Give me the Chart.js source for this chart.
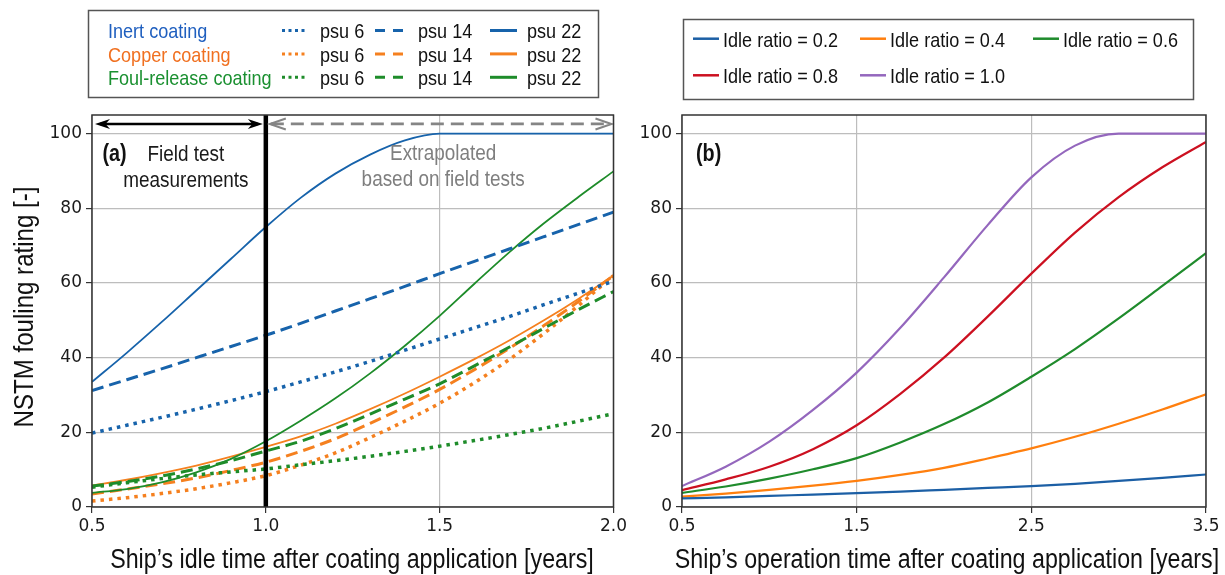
<!DOCTYPE html>
<html><head><meta charset="utf-8">
<script src="https://cdn.jsdelivr.net/npm/chart.js@4.4.1/dist/chart.umd.min.js"></script>
<style>
html,body{margin:0;padding:0;background:#fff;}
#wrap{position:relative;width:1225px;height:575px;overflow:hidden;background:#fff;}
canvas{position:absolute;top:0;}
#cA{left:0;} #cB{left:630px;}
</style></head><body>
<div id="wrap"><canvas id="cA" width="630" height="575"></canvas><canvas id="cB" width="595" height="575"></canvas></div>
<script>
// ---------------- DATA ----------------
// Panel (a): idle time [years]
const idleYears = [0.5,0.6,0.7,0.8,0.9,1.0,1.1,1.2,1.3,1.4,1.5,1.6,1.7,1.8,1.9,2.0];
const inertPsu6   = [19.8,21.9,24.0,26.2,28.5,30.9,33.5,36.2,39.0,42.0,45.0,48.0,51.0,54.2,57.3,60.5];
const inertPsu14  = [31.2,34.1,37.0,40.0,43.0,46.0,49.2,52.5,55.8,59.1,62.5,65.8,69.1,72.4,75.7,79.0];
const inertPsu22  = [33.5,41.3,49.5,58.0,66.5,75.0,82.8,89.3,94.4,98.2,100,100,100,100,100,100];
const copperPsu6  = [1.6,2.5,3.6,4.9,6.5,8.4,11.2,14.5,18.6,23.0,27.8,33.3,39.5,46.5,54.0,62.0];
const copperPsu14 = [3.5,4.8,6.2,7.8,9.8,12.0,14.9,18.3,22.4,26.8,31.5,36.8,42.5,48.6,55.1,62.0];
const copperPsu22 = [5.8,7.3,9.1,11.1,13.5,16.1,18.9,22.3,26.2,30.4,34.9,39.6,44.6,50.0,55.8,62.0];
const foulPsu6    = [5.3,6.5,7.6,8.6,9.4,10.2,11.3,12.4,13.6,14.9,16.3,17.8,19.4,21.1,23.0,25.0];
const foulPsu14   = [5.6,6.8,8.3,10.2,12.4,15.0,17.6,21.0,24.9,28.9,33.0,37.8,42.8,47.9,52.9,57.7];
const foulPsu22   = [3.8,4.8,6.6,9.3,12.9,17.6,23.1,29.1,35.8,43.2,51.2,59.8,68.2,76.0,83.1,89.9];

// Panel (b): operation time [years]
const opYears = [0.5,0.75,1.0,1.25,1.5,1.75,2.0,2.25,2.5,2.75,3.0,3.25,3.5];
const idle02 = [2.3,2.6,3.0,3.3,3.7,4.1,4.6,5.1,5.6,6.2,7.0,7.8,8.7];
const idle04 = [2.8,3.6,4.6,5.7,7.0,8.6,10.5,13.0,15.7,18.8,22.3,26.1,30.2];
const idle06 = [3.8,5.5,7.6,10.1,13.1,17.3,22.2,28.0,34.9,42.3,50.5,59.2,68.0];
const idle08 = [4.5,7.4,10.8,15.5,21.9,30.3,40.0,51.0,62.5,73.5,83.0,91.0,97.8];
const idle10 = [5.6,10.8,17.5,26.0,36.0,48.0,61.5,75.5,88.3,96.8,100,100,100];

// Tick labels
const xTicksA = [0.5,1.0,1.5,2.0];
const xTicksB = [0.5,1.5,2.5,3.5];
const yTicks  = [0,20,40,60,80,100];

// Text
const coatingLabels = ['Inert coating','Copper coating','Foul-release coating'];
const psuLabels = ['psu 6','psu 14','psu 22'];
const idleLabels = ['Idle ratio = 0.2','Idle ratio = 0.4','Idle ratio = 0.6','Idle ratio = 0.8','Idle ratio = 1.0'];
const xTitleA = "Ship\u2019s idle time after coating application [years]";
const xTitleB = "Ship\u2019s operation time after coating application [years]";
const yTitle = 'NSTM fouling rating [-]';

// ---------------- STYLE ----------------
const cBlue = '#1763ab', cOrange = '#f5801f', cGreen = '#1e8c2a';
const coatingTextColors = ['#1f5fbf','#f07020','#1a9030'];
const coatingColors = [cBlue, cOrange, cGreen];
const idleColors = ['#1c5fa5','#ff7f0e','#1f8b2c','#cc1020','#9467bd'];
const K = 0.86;
const LBL = "'Liberation Sans', Arial, Helvetica, sans-serif";
const TICKFONT = {family:"'DejaVu Sans', sans-serif", size:17};

function condText(ctx, text, x, y, align, font, color, rot){
  ctx.save();
  ctx.font = font; ctx.fillStyle = color; ctx.textBaseline = 'alphabetic'; ctx.textAlign = 'left';
  const w = ctx.measureText(text).width * K;
  ctx.translate(x, y);
  if (rot) ctx.rotate(rot);
  const x0 = align === 'center' ? -w/2 : align === 'right' ? -w : 0;
  ctx.translate(x0, 0);
  ctx.scale(K, 1);
  ctx.fillText(text, 0, 0);
  ctx.restore();
}

const styleDefs = {
  dot:  {dash:[3.5,5], w:3.5},
  dash: {dash:[12,6], w:3},
  solid:{dash:[], w:1.8}
};
function mk(label, xs, ys, color, style){
  const s = styleDefs[style];
  return {label, data: xs.map((x,i)=>({x, y: ys[i]})), borderColor: color, borderWidth: s.w,
    borderDash: s.dash, borderCapStyle:'butt', pointRadius:0, fill:false, cubicInterpolationMode:'monotone'};
}

function scales(xmin, xmax, xt, yWidth){
  return {
    x: {type:'linear', min:xmin, max:xmax,
      afterBuildTicks: s => { s.ticks = xt.map(v=>({value:v})); },
      afterFit: s => { s.height = 68; },
      grid:{color:'#bdbdbd', lineWidth:1.2, tickColor:'#333', tickLength:6},
      border:{display:false},
      ticks:{font:TICKFONT, color:'#1a1a1a', padding:3, maxRotation:0, callback: v => Number(v).toFixed(1)}
    },
    y: {type:'linear', min:0, max:105,
      afterBuildTicks: s => { s.ticks = yTicks.map(v=>({value:v})); },
      afterFit: s => { s.width = yWidth; },
      grid:{color:'#bdbdbd', lineWidth:1.2, tickColor:'#333', tickLength:6},
      border:{display:false},
      ticks:{font:TICKFONT, color:'#1a1a1a', padding:4, callback: v => String(v)}
    }
  };
}

function drawFrame(chart){
  const {ctx, chartArea:a} = chart;
  ctx.save(); ctx.strokeStyle = '#333'; ctx.lineWidth = 1.5;
  ctx.strokeRect(a.left, a.top, a.right - a.left, a.bottom - a.top);
  ctx.restore();
}

function sample(ctx, x1, x2, y, color, style, w){
  ctx.save(); ctx.strokeStyle = color; ctx.lineWidth = w; ctx.lineCap = 'butt';
  ctx.setLineDash(style === 'dot' ? [3,3.5] : style === 'dash' ? [10,8] : []);
  ctx.beginPath(); ctx.moveTo(x1, y); ctx.lineTo(x2, y); ctx.stroke(); ctx.restore();
}

function stealthHead(ctx, tx, ty, dir, len, hw){
  ctx.beginPath();
  ctx.moveTo(tx, ty);
  ctx.lineTo(tx + dir*len, ty - hw);
  ctx.lineTo(tx + dir*len*0.7, ty);
  ctx.lineTo(tx + dir*len, ty + hw);
  ctx.closePath(); ctx.fill();
}
function openHead(ctx, tx, ty, dir, len, hw){
  ctx.beginPath();
  ctx.moveTo(tx + dir*len, ty - hw); ctx.lineTo(tx, ty); ctx.lineTo(tx + dir*len, ty + hw);
  ctx.stroke();
}

const annotA = {
  id:'annotA',
  afterDatasetsDraw(chart){
    const {ctx, chartArea:a, scales:{x, y}} = chart;
    const xv = x.getPixelForValue(1.0);
    // vertical boundary line
    ctx.save(); ctx.strokeStyle = '#000'; ctx.lineWidth = 4.5;
    ctx.beginPath(); ctx.moveTo(xv, a.top); ctx.lineTo(xv, a.bottom); ctx.stroke(); ctx.restore();
    const ya = y.getPixelForValue(102.6);
    // black double arrow
    ctx.save(); ctx.strokeStyle = '#000'; ctx.fillStyle = '#000'; ctx.lineWidth = 2.5;
    ctx.beginPath(); ctx.moveTo(a.left + 8, ya); ctx.lineTo(xv - 8, ya); ctx.stroke();
    stealthHead(ctx, a.left + 3, ya, 1, 15, 5);
    stealthHead(ctx, xv - 3, ya, -1, 15, 5);
    ctx.restore();
    // grey dashed double arrow
    ctx.save(); ctx.strokeStyle = '#858585'; ctx.lineWidth = 2.8; ctx.setLineDash([13,7]);
    ctx.beginPath(); ctx.moveTo(xv + 5, ya); ctx.lineTo(a.right - 3, ya); ctx.stroke();
    ctx.setLineDash([]); ctx.lineWidth = 2;
    openHead(ctx, xv + 4, ya, 1, 16, 5.5);
    openHead(ctx, a.right - 2, ya, -1, 16, 5.5);
    ctx.restore();
    // texts
    condText(ctx, '(a)', x.getPixelForValue(0.53), y.getPixelForValue(92.8), 'left', 'bold 23px ' + LBL, '#111');
    condText(ctx, 'Field test', x.getPixelForValue(0.77), y.getPixelForValue(92.8), 'center', '22px ' + LBL, '#1a1a1a');
    condText(ctx, 'measurements', x.getPixelForValue(0.77), y.getPixelForValue(85.6), 'center', '22px ' + LBL, '#1a1a1a');
    condText(ctx, 'Extrapolated', x.getPixelForValue(1.51), y.getPixelForValue(93.0), 'center', '22px ' + LBL, '#7f7f7f');
    condText(ctx, 'based on field tests', x.getPixelForValue(1.51), y.getPixelForValue(85.9), 'center', '22px ' + LBL, '#7f7f7f');
  },
  afterDraw(chart){
    const ctx = chart.ctx;
    drawFrame(chart);
    // axis titles
    condText(ctx, xTitleA, 352, 568, 'center', '27px ' + LBL, '#111');
    condText(ctx, yTitle, 33, 307, 'center', '28px ' + LBL, '#111', -Math.PI/2);
    // legend (a)
    ctx.save(); ctx.strokeStyle = '#555'; ctx.lineWidth = 1.5;
    ctx.strokeRect(88.5, 10.5, 510, 87); ctx.restore();
    const styles = ['dot','dash','solid'];
    const sx = [[282,307],[375,403],[490,517]];
    const tx = [320, 418, 527];
    for (let i = 0; i < 3; i++){
      const base = 38.3 + i*23.4;
      condText(ctx, coatingLabels[i], 108, base, 'left', '21px ' + LBL, coatingTextColors[i]);
      for (let j = 0; j < 3; j++){
        sample(ctx, sx[j][0], sx[j][1], base - 7.8, coatingColors[i], styles[j], 3);
        condText(ctx, psuLabels[j], tx[j], base, 'left', '21px ' + LBL, '#111');
      }
    }
  }
};

const annotB = {
  id:'annotB',
  afterDraw(chart){
    const {ctx, scales:{x, y}} = chart;
    drawFrame(chart);
    condText(ctx, '(b)', x.getPixelForValue(0.58), y.getPixelForValue(92.8), 'left', 'bold 23px ' + LBL, '#111');
    condText(ctx, xTitleB, 317, 568, 'center', '27px ' + LBL, '#111');
    // legend (b)
    ctx.save(); ctx.strokeStyle = '#555'; ctx.lineWidth = 1.5;
    ctx.strokeRect(53.5, 19.5, 510, 80); ctx.restore();
    const pos = [[63,46.7],[230,46.7],[403,46.7],[63,83.3],[230,83.3]];
    for (let i = 0; i < 5; i++){
      const [px, base] = pos[i];
      sample(ctx, px, px + 26, base - 8, idleColors[i], 'solid', 2.5);
      condText(ctx, idleLabels[i], px + 30, base, 'left', '21px ' + LBL, '#111');
    }
  }
};

const common = {
  responsive:false, animation:false, devicePixelRatio:1,
  plugins:{legend:{display:false}, tooltip:{enabled:false}},
  elements:{point:{radius:0}}
};

new Chart(document.getElementById('cA'), {
  type:'line',
  data:{datasets:[
    mk('Inert psu 6', idleYears, inertPsu6, cBlue, 'dot'),
    mk('Inert psu 14', idleYears, inertPsu14, cBlue, 'dash'),
    mk('Inert psu 22', idleYears, inertPsu22, cBlue, 'solid'),
    mk('Foul-release psu 6', idleYears, foulPsu6, cGreen, 'dot'),
    mk('Foul-release psu 14', idleYears, foulPsu14, cGreen, 'dash'),
    mk('Foul-release psu 22', idleYears, foulPsu22, cGreen, 'solid'),
    mk('Copper psu 6', idleYears, copperPsu6, cOrange, 'dot'),
    mk('Copper psu 14', idleYears, copperPsu14, cOrange, 'dash'),
    mk('Copper psu 22', idleYears, copperPsu22, cOrange, 'solid')
  ]},
  options: Object.assign({}, common, {
    layout:{padding:{top:115, right:14, bottom:0, left:0}},
    scales: scales(0.5, 2.0, xTicksA, 92)
  }),
  plugins:[annotA]
});

const idleSeries = [idle02, idle04, idle06, idle08, idle10];
new Chart(document.getElementById('cB'), {
  type:'line',
  data:{datasets: idleSeries.map((s,i)=>{
    const d = mk(idleLabels[i], opYears, s, idleColors[i], 'solid'); d.borderWidth = 2.2; return d; })},
  options: Object.assign({}, common, {
    layout:{padding:{top:115, right:19, bottom:0, left:0}},
    scales: scales(0.5, 3.5, xTicksB, 52)
  }),
  plugins:[annotB]
});
</script>
</body></html>
